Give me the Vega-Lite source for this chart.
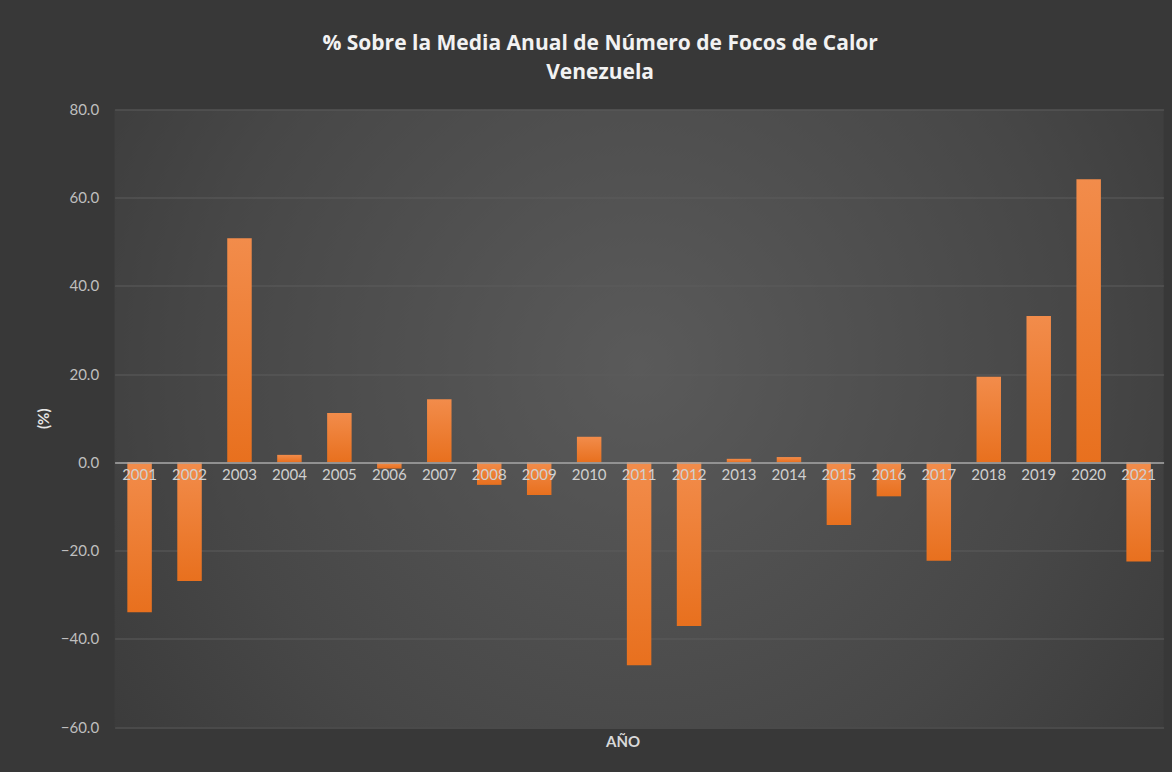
{
  "$schema": "https://vega.github.io/schema/vega-lite/v6.json",
  "width": 1049,
  "height": 617.5,
  "autosize": {"type": "none"},
  "padding": {"left": 114.6, "top": 109.5, "right": 8.4, "bottom": 45},
  "background": "#383838",
  "config": {
    "view": {
      "stroke": null,
      "fill": {
        "gradient": "radial",
        "x1": 0.5, "y1": 0.45, "r1": 0,
        "x2": 0.5, "y2": 0.45, "r2": 0.75,
        "stops": [
          {"offset": 0, "color": "#5a5a5a"},
          {"offset": 0.55, "color": "#474747"},
          {"offset": 1, "color": "#333333"}
        ]
      }
    },
    "font": "Lato"
  },
  "title": {
    "text": ["% Sobre la Media Anual de Número de Focos de Calor", "Venezuela"],
    "color": "#f2f2f2",
    "font": "Open Sans",
    "fontSize": 21,
    "fontWeight": "bold",
    "lineHeight": 29,
    "anchor": "middle",
    "frame": "bounds",
    "offset": 20
  },
  "data": {
    "values": [
      {"year": "2001", "value": -34.0},
      {"year": "2002", "value": -26.9},
      {"year": "2003", "value": 50.8},
      {"year": "2004", "value": 1.7},
      {"year": "2005", "value": 11.2},
      {"year": "2006", "value": -1.4},
      {"year": "2007", "value": 14.3},
      {"year": "2008", "value": -5.1},
      {"year": "2009", "value": -7.4},
      {"year": "2010", "value": 5.8},
      {"year": "2011", "value": -46.0},
      {"year": "2012", "value": -37.1},
      {"year": "2013", "value": 0.8},
      {"year": "2014", "value": 1.2},
      {"year": "2015", "value": -14.2},
      {"year": "2016", "value": -7.7},
      {"year": "2017", "value": -22.3},
      {"year": "2018", "value": 19.4},
      {"year": "2019", "value": 33.2},
      {"year": "2020", "value": 64.2},
      {"year": "2021", "value": -22.5}
    ]
  },
  "mark": {
    "type": "bar",
    "fill": {
      "gradient": "linear",
      "x1": 0, "y1": 0, "x2": 0, "y2": 1,
      "stops": [
        {"offset": 0, "color": "#F28C4B"},
        {"offset": 1, "color": "#E8701E"}
      ]
    }
  },
  "encoding": {
    "x": {
      "field": "year",
      "type": "ordinal",
      "scale": {"paddingInner": 0.51, "paddingOuter": 0.255},
      "axis": {
        "title": "AÑO",
        "titleColor": "#d9d9d9",
        "titleFont": "Lato",
        "titleFontSize": 15,
        "titleFontWeight": "bold",
        "titleX": 508,
        "titleY": 272,
        "titleAnchor": "middle",
        "offset": -264.6,
        "domainColor": "#a6a6a6",
        "domainWidth": 1.5,
        "ticks": false,
        "labelAngle": 0,
        "labelColor": "#d0d0d0",
        "labelFontSize": 15,
        "labelPadding": 5,
        "zindex": 1
      }
    },
    "y": {
      "field": "value",
      "type": "quantitative",
      "scale": {"domain": [-60, 80], "nice": false},
      "axis": {
        "values": [-60, -40, -20, 0, 20, 40, 60, 80],
        "format": ".1f",
        "title": "(%)",
        "titleColor": "#e6e6e6",
        "titleFontSize": 15,
        "titleFontWeight": "bold",
        "titleX": -63,
        "titleAngle": -90,
        "domain": false,
        "ticks": false,
        "labelColor": "#bfbfbf",
        "labelFontSize": 15,
        "labelPadding": 16,
        "gridColor": "#5c5c5c",
        "gridWidth": 1
      }
    }
  }
}
